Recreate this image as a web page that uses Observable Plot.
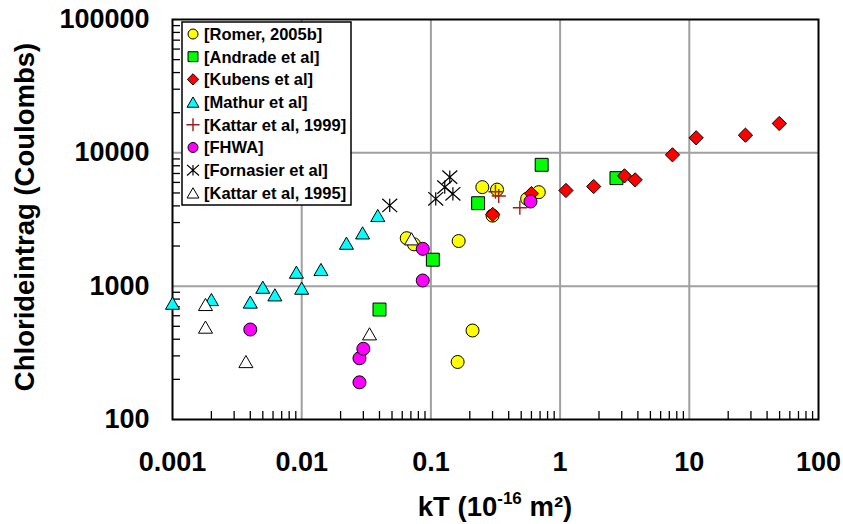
<!DOCTYPE html>
<html>
<head>
<meta charset="utf-8">
<script src="https://cdn.jsdelivr.net/npm/d3@7"></script>
<script src="https://cdn.jsdelivr.net/npm/@observablehq/plot@0.6"></script>
<style>
  html, body { margin: 0; padding: 0; background: #fff; }
  #chart svg { display: block; }
</style>
</head>
<body>
<div id="chart"></div>
<script>
// kT (10^-16 m²) against chloride ingress (Coulombs), one pair of arrays per study
const romerKT = [0.065, 0.074, 0.164, 0.21, 0.161, 0.25, 0.325, 0.3, 0.556, 0.684];
const romerQ  = [2290, 2060, 2180, 465, 270, 5530, 5300, 3380, 4520, 5070];

const andradeKT = [0.04, 0.1035, 0.232, 0.72, 2.73];
const andradeQ  = [668, 1580, 4190, 8130, 6460];

const kubensKT = [0.301, 0.6, 1.11, 1.82, 3.15, 3.81, 7.41, 11.3, 27.2, 49.7];
const kubensQ  = [3450, 4950, 5220, 5590, 6720, 6270, 9660, 12960, 13570, 16600];

const mathurKT = [0.001, 0.002, 0.004, 0.005, 0.0062, 0.0091, 0.01, 0.0141, 0.0222, 0.0296, 0.0388];
const mathurQ  = [745, 794, 760, 982, 861, 1273, 966, 1334, 2100, 2510, 3390];

const kattar99KT = [0.316, 0.335, 0.488];
const kattar99Q  = [5100, 4750, 3870];

const fhwaKT = [0.004, 0.028, 0.03, 0.028, 0.0865, 0.0865, 0.59];
const fhwaQ  = [473, 288, 339, 190, 1905, 1103, 4315];

const fornasierKT = [0.048, 0.109, 0.14, 0.128, 0.148];
const fornasierQ  = [4030, 4520, 6570, 5530, 4930];

const kattar95KT = [0.0018, 0.0018, 0.0037, 0.0335, 0.0708];
const kattar95Q  = [729, 493, 272, 439, 2265];

const seriesNames = [
  "[Romer, 2005b]", "[Andrade et al]", "[Kubens et al]", "[Mathur et al]",
  "[Kattar et al, 1999]", "[FHWA]", "[Fornasier et al]", "[Kattar et al, 1995]"
];

const xTickValues = [0.001, 0.01, 0.1, 1, 10, 100];
const xTickLabels = ["0.001", "0.01", "0.1", "1", "10", "100"];
const yTickValues = [100, 1000, 10000, 100000];
const yTickLabels = ["100", "1000", "10000", "100000"];
const xGridValues = [0.01, 0.1, 1, 10];
const yGridValues = [1000, 10000];

// Layout
const W = 843, H = 524;
const mL = 172, mR = 25, mT = 19, mB = 105;
const innerW = W - mL - mR, innerH = H - mT - mB;
const FONT = "'Liberation Sans', Arial, Helvetica, sans-serif";
const minorLen = 8;

// Triangle centred on its bounding box, and a six-armed star (X plus a vertical bar)
const triangleBox = {
  draw(ctx, size) {
    const s = Math.sqrt(size / Math.PI) * 2.7, h = s * Math.sqrt(3) / 2;
    ctx.moveTo(0, -h / 2); ctx.lineTo(s / 2, h / 2); ctx.lineTo(-s / 2, h / 2); ctx.closePath();
  }
};
const starX = {
  draw(ctx, size) {
    const r = Math.sqrt(size / Math.PI), w = r * 1.07, v = r * 0.95;
    ctx.moveTo(-w, -v); ctx.lineTo(w, v);
    ctx.moveTo(-w, v); ctx.lineTo(w, -v);
    ctx.moveTo(0, -v); ctx.lineTo(0, v);
  }
};

const rows = (xs, ys) => xs.map((x, i) => ({kT: x, q: ys[i]}));

const series = [
  {name: seriesNames[0], data: rows(romerKT, romerQ), symbol: d3.symbolCircle, fill: "#ffff00", stroke: "#000", sw: 1, r: 6.5, lr: 5},
  {name: seriesNames[1], data: rows(andradeKT, andradeQ), symbol: d3.symbolSquare, fill: "#00ff00", stroke: "#000", sw: 1, r: 7.3, lr: 5.6},
  {name: seriesNames[2], data: rows(kubensKT, kubensQ), symbol: d3.symbolDiamond2, fill: "#ff0000", stroke: "#000", sw: 1, r: 6.4, lr: 5.1},
  {name: seriesNames[3], data: rows(mathurKT, mathurQ), symbol: triangleBox, fill: "#00ffff", stroke: "#000", sw: 1, r: 5.2, lr: 4.4},
  {name: seriesNames[4], data: rows(kattar99KT, kattar99Q), symbol: d3.symbolPlus, fill: "none", stroke: "#9b1c1c", sw: 1.4, r: 4.6, lr: 4.3},
  {name: seriesNames[5], data: rows(fhwaKT, fhwaQ), symbol: d3.symbolCircle, fill: "#ff00ff", stroke: "#000", sw: 1, r: 6.5, lr: 5},
  {name: seriesNames[6], data: rows(fornasierKT, fornasierQ), symbol: starX, fill: "none", stroke: "#000", sw: 1.2, r: 7, lr: 5.6},
  {name: seriesNames[7], data: rows(kattar95KT, kattar95Q), symbol: triangleBox, fill: "#ffffff", stroke: "#000", sw: 1, r: 5.2, lr: 4.4}
];
// Painting order of the point layers
const drawOrder = [1, 0, 2, 3, 4, 5, 6, 7];

// Minor ticks 2..9 inside each decade
const minorX = [], minorY = [];
for (let e = -3; e < 2; e++) for (let k = 2; k <= 9; k++) minorX.push(k * Math.pow(10, e));
for (let e = 2; e < 5; e++) for (let k = 2; k <= 9; k++) minorY.push(k * Math.pow(10, e));

const xLabel = new Map(xTickValues.map((v, i) => [v, xTickLabels[i]]));
const yLabel = new Map(yTickValues.map((v, i) => [v, yTickLabels[i]]));

const chart = Plot.plot({
  width: W, height: H,
  marginLeft: mL, marginRight: mR, marginTop: mT, marginBottom: mB,
  x: {type: "log", domain: [0.001, 100]},
  y: {type: "log", domain: [100, 100000]},
  style: {fontFamily: FONT, fontWeight: "bold", background: "#fff", color: "#000", overflow: "visible"},
  marks: [
    Plot.gridX(xGridValues, {stroke: "#a0a0a0", strokeOpacity: 1, strokeWidth: 2}),
    Plot.gridY(yGridValues, {stroke: "#a0a0a0", strokeOpacity: 1, strokeWidth: 2}),
    Plot.ruleX(minorX, {x: d => d, stroke: "#000", strokeWidth: 1.3, insetTop: innerH - minorLen}),
    Plot.ruleY(minorY, {y: d => d, stroke: "#000", strokeWidth: 1.3, insetRight: innerW - minorLen}),
    Plot.frame({stroke: "#000", strokeWidth: 2}),
    Plot.axisX(xTickValues, {tickSize: 0, tickPadding: 32, tickFormat: d => xLabel.get(d), fontSize: 27, fontWeight: "bold", label: null}),
    Plot.axisY(yTickValues, {tickSize: 0, tickPadding: 23, tickFormat: d => yLabel.get(d), fontSize: 27, fontWeight: "bold", label: null}),
    ...drawOrder.map(j => {
      const s = series[j];
      return Plot.dot(s.data, {x: "kT", y: "q", symbol: s.symbol, r: s.r, fill: s.fill, stroke: s.stroke, strokeWidth: s.sw});
    })
  ]
});

const svg = d3.select(chart);

// Axis titles
svg.append("text")
  .attr("transform", `translate(34,${mT + innerH / 2 - 2}) rotate(-90)`)
  .attr("text-anchor", "middle")
  .attr("font-family", FONT).attr("font-weight", "bold").attr("font-size", 27.5)
  .attr("fill", "#000")
  .text("Chlorideintrag (Coulombs)");

const xt = svg.append("text")
  .attr("x", mL + innerW / 2).attr("y", 516)
  .attr("text-anchor", "middle")
  .attr("font-family", FONT).attr("font-weight", "bold").attr("font-size", 27.5)
  .attr("fill", "#000");
xt.append("tspan").text("kT (10");
xt.append("tspan").attr("dy", -12).attr("font-size", 17).text("-16");
xt.append("tspan").attr("dy", 12).text(" m²)");

// Legend box inside the plot frame
const lg = svg.append("g").attr("transform", `translate(${mL + 10},${mT + 3})`);
lg.append("rect").attr("width", 169).attr("height", 183)
  .attr("fill", "#fff").attr("stroke", "#000").attr("stroke-width", 1.5);
series.forEach((s, i) => {
  const yy = 12 + i * 22.7;
  lg.append("path")
    .attr("transform", `translate(11,${yy})`)
    .attr("d", d3.symbol(s.symbol, Math.PI * s.lr * s.lr)())
    .attr("fill", s.fill).attr("stroke", s.stroke).attr("stroke-width", s.sw);
  lg.append("text")
    .attr("x", 22).attr("y", yy).attr("dy", "0.36em")
    .attr("text-anchor", "start")
    .attr("font-family", FONT).attr("font-weight", "bold").attr("font-size", 16.5)
    .attr("fill", "#000")
    .text(s.name);
});

document.getElementById("chart").append(chart);
</script>
</body>
</html>
